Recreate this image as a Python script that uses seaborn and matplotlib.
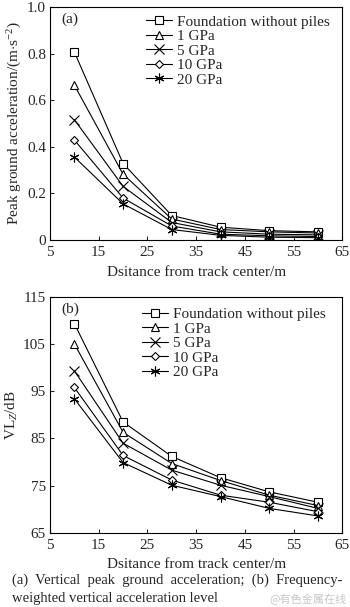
import pandas as pd
import matplotlib
matplotlib.use('Agg')
import matplotlib.pyplot as plt
import seaborn as sns

sns.set_style('ticks')
plt.rcParams['font.family'] = ['Liberation Serif', 'Noto Sans CJK SC', 'DejaVu Sans']
plt.rcParams['mathtext.fontset'] = 'custom'
plt.rcParams['mathtext.rm'] = 'Liberation Serif'
plt.rcParams['mathtext.it'] = 'Liberation Serif:italic'

distance = [10, 20, 30, 40, 50, 60]
labels = ['Foundation without piles', '1 GPa', '5 GPa', '10 GPa', '20 GPa']
markers = ['s', '^', 'x', 'D', (6, 2, 0)]
msizes = [5.5, 5.5, 6.5, 4.5, 7]

# (a) peak ground acceleration, m/s^2
pga_none = [0.806, 0.328, 0.105, 0.055, 0.040, 0.035]
pga_1 = [0.664, 0.282, 0.090, 0.045, 0.035, 0.030]
pga_5 = [0.516, 0.230, 0.075, 0.035, 0.025, 0.022]
pga_10 = [0.429, 0.180, 0.060, 0.025, 0.018, 0.015]
pga_20 = [0.356, 0.155, 0.045, 0.020, 0.012, 0.010]

# (b) VLz, dB
vl_none = [109.3, 88.5, 81.2, 76.7, 73.7, 71.5]
vl_1 = [105.0, 86.3, 79.7, 76.1, 73.0, 70.8]
vl_5 = [99.3, 84.0, 78.3, 75.1, 72.7, 70.2]
vl_10 = [95.8, 81.4, 76.2, 73.0, 71.5, 69.5]
vl_20 = [93.4, 79.9, 75.1, 72.7, 70.2, 68.6]

FS = 11

fig = plt.figure(figsize=(3.5, 6.07), dpi=100)
ax1 = fig.add_axes([0.143, 0.6046, 0.835, 0.384])
ax2 = fig.add_axes([0.143, 0.122, 0.835, 0.389])


def draw(ax, series, ylim, yticks, yticklabels, ylabel, tag, legx, legy):
    for vals, lab, mk, ms in zip(series, labels, markers, msizes):
        df = pd.DataFrame({'x': distance, 'y': vals})
        sns.lineplot(data=df, x='x', y='y', ax=ax, color='black', lw=0.8,
                     marker=mk, markersize=ms, markerfacecolor='white',
                     markeredgecolor='black', markeredgewidth=0.8, label=lab)
    ax.set_xlim(5, 65)
    ax.set_xticks([5, 15, 25, 35, 45, 55, 65])
    ax.set_ylim(*ylim)
    ax.set_yticks(yticks)
    ax.set_yticklabels(yticklabels)
    ax.tick_params(direction='in', length=3, width=0.8, labelsize=FS)
    ax.tick_params(axis='x', pad=4)
    ax.tick_params(axis='y', pad=3)
    ax.set_xlabel('Dsitance from track center/m', fontsize=FS, labelpad=5)
    ax.set_ylabel(ylabel, fontsize=FS, labelpad=2)
    for s in ax.spines.values():
        s.set_linewidth(0.8)
        s.set_color('black')
    ax.text(0.04, 0.975, tag, transform=ax.transAxes, fontsize=FS, va='top')
    ax.legend(loc='upper left', bbox_to_anchor=(legx, legy), frameon=False,
              fontsize=FS, handlelength=1.7, handletextpad=0.3,
              labelspacing=0.05, borderaxespad=0, borderpad=0)


draw(ax1, [pga_none, pga_1, pga_5, pga_10, pga_20], (0, 1.0),
     [0, 0.2, 0.4, 0.6, 0.8, 1.0], ['0', '0.2', '0.4', '0.6', '0.8', '1.0'],
     r'Peak ground acceleration/(m$\cdot$s$^{-2}$)', '(a)', 0.33, 0.965)
draw(ax2, [vl_none, vl_1, vl_5, vl_10, vl_20], (65, 115),
     [65, 75, 85, 95, 105, 115], ['65', '75', '85', '95', '105', '115'],
     r'VL$_{Z}$/dB', '(b)', 0.315, 0.955)

fig.text(0.035, 0.044, '(a)  Vertical  peak  ground  acceleration;  (b)  Frequency-',
         fontsize=10.5, va='center')
fig.text(0.035, 0.014, 'weighted vertical acceleration level', fontsize=10.5, va='center')
fig.text(0.99, 0.013, '@有色金属在线', fontsize=8, color='#c8c8c8', ha='right',
         va='center', family=['Noto Sans CJK SC', 'DejaVu Sans'])

fig.savefig('out.png', dpi=100)
